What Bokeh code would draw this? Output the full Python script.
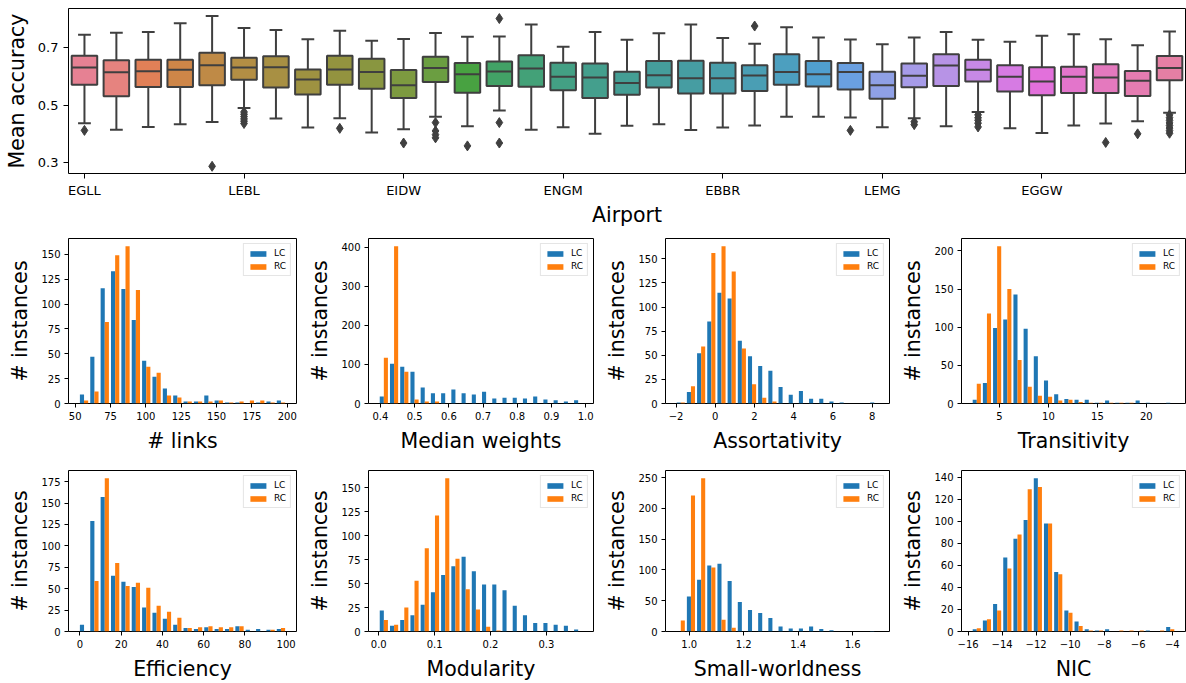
import math
import colorsys
import numpy as np
from bokeh.plotting import figure
from bokeh.layouts import column, row
from bokeh.models import Range1d, FixedTicker
from bokeh.embed import file_html
from bokeh.resources import INLINE

# ------------------------------------------------------------------ data
# Box plot: mean accuracy per airport (35 airports, every 5th labelled)
tick_pos = [0, 5, 10, 15, 20, 25, 30]
tick_names = ["EGLL", "LEBL", "EIDW", "ENGM", "EBBR", "LEMG", "EGGW"]
whisk_hi = [0.745, 0.752, 0.754, 0.785, 0.810, 0.768, 0.761, 0.729, 0.759, 0.724,
            0.730, 0.751, 0.738, 0.739, 0.780, 0.703, 0.754, 0.727, 0.750, 0.780,
            0.733, 0.713, 0.771, 0.735, 0.728, 0.712, 0.735, 0.754, 0.727, 0.720,
            0.741, 0.746, 0.729, 0.708, 0.756]
q3 = [0.672, 0.656, 0.658, 0.658, 0.682, 0.665, 0.670, 0.624, 0.672, 0.661,
      0.622, 0.668, 0.646, 0.652, 0.673, 0.647, 0.645, 0.616, 0.653, 0.654,
      0.647, 0.639, 0.677, 0.653, 0.646, 0.616, 0.645, 0.677, 0.658, 0.639,
      0.632, 0.633, 0.642, 0.619, 0.671]
med = [0.631, 0.614, 0.618, 0.623, 0.639, 0.631, 0.632, 0.589, 0.624, 0.615,
       0.569, 0.629, 0.607, 0.617, 0.627, 0.599, 0.596, 0.577, 0.604, 0.593,
       0.593, 0.603, 0.615, 0.607, 0.615, 0.569, 0.602, 0.638, 0.623, 0.599,
       0.582, 0.599, 0.596, 0.585, 0.629]
q1 = [0.571, 0.531, 0.563, 0.563, 0.569, 0.588, 0.561, 0.537, 0.571, 0.557,
      0.525, 0.580, 0.543, 0.566, 0.564, 0.552, 0.525, 0.536, 0.561, 0.540,
      0.540, 0.549, 0.571, 0.565, 0.554, 0.522, 0.562, 0.566, 0.582, 0.547,
      0.534, 0.542, 0.542, 0.532, 0.586]
whisk_lo = [0.437, 0.414, 0.424, 0.433, 0.441, 0.490, 0.453, 0.422, 0.454, 0.405,
            0.416, 0.459, 0.426, 0.481, 0.414, 0.423, 0.400, 0.428, 0.433, 0.413,
            0.422, 0.429, 0.459, 0.459, 0.457, 0.423, 0.454, 0.426, 0.476, 0.419,
            0.403, 0.429, 0.436, 0.444, 0.473]
out_box = [0, 4, 5, 5, 5, 5, 5, 5, 8, 10, 11, 11, 11, 11, 12, 13, 13, 13, 21, 24,
           26, 26, 28, 28, 28, 28, 28, 32, 33, 34, 34, 34, 34, 34, 34, 34, 34]
out_val = [0.412, 0.287, 0.476, 0.468, 0.460, 0.452, 0.444, 0.436, 0.419, 0.368,
           0.439, 0.410, 0.397, 0.386, 0.358, 0.801, 0.439, 0.368, 0.775, 0.412,
           0.442, 0.432, 0.466, 0.456, 0.447, 0.437, 0.424, 0.370, 0.400,
           0.466, 0.456, 0.447, 0.438, 0.429, 0.420, 0.411, 0.402]

# Histograms (20 bins each): bin range, LC counts, RC counts
links_range = (52.6, 199.2)
links_lc = [9, 47, 116, 133, 115, 84, 43, 27, 15, 8, 2, 2, 8, 3, 1, 1, 0, 1, 2, 3]
links_rc = [3, 12, 82, 149, 158, 114, 37, 31, 8, 6, 2, 2, 2, 3, 1, 2, 3, 3, 1, 1]

medw_range = (0.395, 0.993)
medw_lc = [18, 102, 94, 81, 41, 26, 26, 36, 26, 23, 30, 13, 15, 15, 13, 18, 10, 8, 5, 8]
medw_rc = [117, 402, 81, 10, 5, 5, 0, 0, 0, 0, 0, 0, 0, 0, 0, 0, 0, 0, 0, 0]

assort_range = (-2.02, 8.37)
assort_lc = [1, 12, 52, 85, 115, 109, 65, 49, 39, 34, 17, 9, 13, 5, 5, 2, 1, 0, 0, 1]
assort_rc = [1, 18, 59, 156, 163, 137, 57, 20, 6, 2, 0, 0, 0, 0, 0, 0, 0, 0, 0, 0]

trans_range = (2.16, 22.96)
trans_lc = [5, 27, 99, 110, 143, 98, 62, 30, 12, 6, 5, 5, 1, 4, 1, 1, 4, 1, 0, 1]
trans_rc = [26, 118, 206, 150, 57, 22, 10, 9, 4, 5, 2, 1, 1, 1, 1, 1, 0, 0, 0, 0]

eff_range = (-0.5, 100.0)
eff_lc = [8, 129, 157, 65, 58, 52, 28, 22, 15, 8, 4, 3, 5, 3, 3, 6, 2, 3, 2, 3]
eff_rc = [0, 59, 179, 80, 53, 57, 51, 30, 23, 16, 4, 5, 6, 5, 5, 6, 0, 0, 2, 4]

mod_range = (0.0, 0.366)
mod_lc = [22, 6, 12, 17, 28, 41, 59, 68, 78, 63, 49, 49, 43, 27, 17, 9, 9, 7, 6, 2]
mod_rc = [12, 7, 25, 53, 87, 121, 160, 76, 44, 23, 5, 1, 0, 0, 0, 0, 0, 0, 0, 0]

sw_range = (0.950, 1.698)
sw_lc = [0, 57, 84, 107, 110, 82, 48, 35, 30, 22, 8, 5, 5, 8, 4, 2, 0, 0, 0, 1]
sw_rc = [18, 221, 249, 104, 19, 6, 0, 0, 0, 0, 0, 0, 0, 0, 0, 0, 0, 0, 0, 0]

nic_range = (-15.79, -3.82)
nic_lc = [2, 10, 25, 67, 84, 101, 139, 98, 54, 19, 9, 2, 1, 2, 0, 0, 0, 1, 0, 4]
nic_rc = [3, 11, 19, 57, 88, 129, 131, 98, 52, 17, 5, 1, 1, 0, 1, 1, 1, 0, 1, 2]

FONT = "DejaVu Sans"
BLUE = "#1f77b4"
ORANGE = "#ff7f0e"


# ------------------------------------------------------------------ husl palette (seaborn)
_M = [[3.2406, -1.5372, -0.4986],
      [-0.9689, 1.8758, 0.0415],
      [0.0557, -0.2040, 1.0570]]
_refU, _refV = 0.19784, 0.46834


def _max_chroma(L, H):
    hrad = math.radians(H)
    sinH, cosH = math.sin(hrad), math.cos(hrad)
    sub1 = (L + 16) ** 3 / 1560896.0
    sub2 = sub1 if sub1 > 0.008856 else L / 903.3
    result = float("inf")
    for m1, m2, m3 in _M:
        top = (0.99915 * m1 + 1.05122 * m2 + 1.14460 * m3) * sub2
        rbottom = 0.86330 * m3 - 0.17266 * m2
        lbottom = 0.12949 * m3 - 0.38848 * m1
        bottom = (rbottom * sinH + lbottom * cosH) * sub2
        for t in (0.0, 1.0):
            C = L * (top - 1.05122 * t) / (bottom + 0.17266 * sinH * t)
            if 0.0 < C < result:
                result = C
    return result


def _husl_to_rgb(H, S, L):
    C = _max_chroma(L, H) / 100.0 * S
    hrad = math.radians(H)
    U, V = math.cos(hrad) * C, math.sin(hrad) * C
    varY = ((L + 16.0) / 116.0) ** 3
    if varY <= 0.008856:
        varY = L / 903.3
    varU = U / (13.0 * L) + _refU
    varV = V / (13.0 * L) + _refV
    Y = varY
    X = 0.0 - (9.0 * Y * varU) / ((varU - 4.0) * varV - varU * varV)
    Z = (9.0 * Y - 15.0 * varV * Y - varV * X) / (3.0 * varV)
    out = []
    for r in _M:
        c = r[0] * X + r[1] * Y + r[2] * Z
        c = 12.92 * c if c <= 0.0031308 else 1.055 * c ** (1 / 2.4) - 0.055
        out.append(min(max(c, 0.0), 1.0))
    return out


def husl_palette(n, h=.01, s=.9, l=.65):
    hues = (np.linspace(0, 1, n + 1)[:-1] + h) % 1 * 359
    return [_husl_to_rgb(hh, s * 99, l * 99) for hh in hues]


def to_hex(c):
    return "#%02x%02x%02x" % tuple(int(round(v * 255)) for v in c)


pal = []
for c in husl_palette(len(med)):
    hh, ll, ss = colorsys.rgb_to_hls(*c)
    pal.append(colorsys.hls_to_rgb(hh, ll, ss * 0.75))
lum = min(colorsys.rgb_to_hls(*c)[1] for c in pal) * 0.6
GRAY = to_hex((lum, lum, lum))
box_colors = [to_hex(c) for c in pal]


# ------------------------------------------------------------------ helpers
def style(p, tick_font, label_font, tick_len):
    p.xgrid.visible = False
    p.ygrid.visible = False
    p.outline_line_color = "black"
    p.outline_line_width = 1
    p.outline_line_alpha = 1
    p.background_fill_color = "white"
    p.border_fill_color = "white"
    for ax in (p.xaxis[0], p.yaxis[0]):
        ax.axis_line_color = None
        ax.major_tick_in = 0
        ax.major_tick_out = tick_len
        ax.major_tick_line_color = "black"
        ax.minor_tick_line_color = None
        ax.major_label_text_font = FONT
        ax.major_label_text_font_size = tick_font
        ax.major_label_text_color = "black"
        ax.axis_label_text_font = FONT
        ax.axis_label_text_font_size = label_font
        ax.axis_label_text_font_style = "normal"
        ax.axis_label_text_color = "black"
    p.xaxis[0].major_label_standoff = 4
    p.yaxis[0].major_label_standoff = 4


def fmt(t):
    if t < 0:
        return "\u2212" + fmt(-t)
    if isinstance(t, int):
        return str(t)
    return ("%.1f" % t)


# ------------------------------------------------------------------ box plot
top = figure(width=1186, height=230, output_backend="svg", toolbar_location=None, tools="",
             x_range=Range1d(-0.5, len(med) - 0.5), y_range=Range1d(0.262, 0.836),
             min_border_left=68, min_border_right=1, min_border_top=8, min_border_bottom=57)
style(top, "13px", "20.5px", 5)
idx = list(range(len(med)))
LW = 2
top.segment(x0=idx, x1=idx, y0=q3, y1=whisk_hi, line_color=GRAY, line_width=LW)
top.segment(x0=idx, x1=idx, y0=q1, y1=whisk_lo, line_color=GRAY, line_width=LW)
top.segment(x0=[i - 0.2 for i in idx], x1=[i + 0.2 for i in idx], y0=whisk_hi, y1=whisk_hi,
            line_color=GRAY, line_width=LW)
top.segment(x0=[i - 0.2 for i in idx], x1=[i + 0.2 for i in idx], y0=whisk_lo, y1=whisk_lo,
            line_color=GRAY, line_width=LW)
top.vbar(x=idx, width=0.8, bottom=q1, top=q3, fill_color=box_colors, line_color=GRAY,
         line_width=LW)
top.segment(x0=[i - 0.4 for i in idx], x1=[i + 0.4 for i in idx], y0=med, y1=med,
            line_color=GRAY, line_width=LW)
top.scatter(x=out_box, y=out_val, marker="diamond", size=10, fill_color=GRAY, line_color=GRAY)
top.xaxis.ticker = FixedTicker(ticks=tick_pos)
top.xaxis.major_label_overrides = {p: n for p, n in zip(tick_pos, tick_names)}
top.yaxis.ticker = FixedTicker(ticks=[0.3, 0.5, 0.7])
top.yaxis.major_label_overrides = {0.3: "0.3", 0.5: "0.5", 0.7: "0.7"}
top.xaxis.axis_label = "Airport"
top.yaxis.axis_label = "Mean accuracy"
top.xaxis.axis_label_standoff = 2
top.yaxis.axis_label_standoff = 6
top.xaxis.major_label_standoff = 4
top.yaxis.major_label_standoff = 5


# ------------------------------------------------------------------ histograms
def make_hist(xlabel, rng, lc, rc, xticks, yticks, fw, mbl, mbr, fh, mbt, mbb):
    lo, hi = rng
    n = len(lc)
    w = (hi - lo) / n
    edges = np.linspace(lo, hi, n + 1)
    centers = edges[:-1] + w / 2
    span = hi - lo
    ymax = max(max(lc), max(rc)) * 1.05
    p = figure(width=fw, height=fh, output_backend="svg", toolbar_location=None, tools="",
               x_range=Range1d(lo - 0.05 * span, hi + 0.05 * span), y_range=Range1d(0, ymax),
               min_border_left=mbl, min_border_right=mbr, min_border_top=mbt,
               min_border_bottom=mbb)
    style(p, "10px", "20.5px", 4)
    p.vbar(x=centers - 0.2 * w, width=0.4 * w, top=lc, bottom=0, fill_color=BLUE,
           line_color=None, legend_label="LC")
    p.vbar(x=centers + 0.2 * w, width=0.4 * w, top=rc, bottom=0, fill_color=ORANGE,
           line_color=None, legend_label="RC")
    p.xaxis.ticker = FixedTicker(ticks=xticks)
    p.xaxis.major_label_overrides = {t: fmt(t) for t in xticks}
    p.yaxis.ticker = FixedTicker(ticks=yticks)
    p.yaxis.major_label_overrides = {t: fmt(t) for t in yticks}
    p.xaxis.axis_label = xlabel
    p.yaxis.axis_label = "# instances"
    p.xaxis.axis_label_standoff = 6
    p.yaxis.axis_label_standoff = 6
    p.xaxis.major_label_standoff = 4
    leg = p.legend[0]
    leg.location = "top_right"
    leg.label_text_font = FONT
    leg.label_text_font_size = "9px"
    leg.label_text_color = "black"
    leg.glyph_width = 20
    leg.glyph_height = 7
    leg.label_height = 10
    leg.label_width = 10
    leg.label_standoff = 6
    leg.spacing = 3
    leg.padding = 4
    leg.margin = 5
    leg.border_line_color = "#cccccc"
    leg.border_line_width = 1
    leg.background_fill_alpha = 0.8
    return p


cols = [(305, 68, 9), (297, 61, 9), (296, 61, 9), (288, 62, 1)]
r2 = (225, 8, 50)
r3 = (228, 15, 47)

h1 = make_hist("# links", links_range, links_lc, links_rc,
               [50, 75, 100, 125, 150, 175, 200], [0, 25, 50, 75, 100, 125, 150],
               *cols[0], *r2)
h2 = make_hist("Median weights", medw_range, medw_lc, medw_rc,
               [0.4, 0.5, 0.6, 0.7, 0.8, 0.9, 1.0], [0, 100, 200, 300, 400],
               *cols[1], *r2)
h3 = make_hist("Assortativity", assort_range, assort_lc, assort_rc,
               [-2, 0, 2, 4, 6, 8], [0, 25, 50, 75, 100, 125, 150],
               *cols[2], *r2)
h4 = make_hist("Transitivity", trans_range, trans_lc, trans_rc,
               [5, 10, 15, 20], [0, 50, 100, 150, 200],
               *cols[3], *r2)
h5 = make_hist("Efficiency", eff_range, eff_lc, eff_rc,
               [0, 20, 40, 60, 80, 100], [0, 25, 50, 75, 100, 125, 150, 175],
               *cols[0], *r3)
h6 = make_hist("Modularity", mod_range, mod_lc, mod_rc,
               [0.0, 0.1, 0.2, 0.3], [0, 25, 50, 75, 100, 125, 150],
               *cols[1], *r3)
h7 = make_hist("Small-worldness", sw_range, sw_lc, sw_rc,
               [1.0, 1.2, 1.4, 1.6], [0, 50, 100, 150, 200, 250],
               *cols[2], *r3)
h8 = make_hist("NIC", nic_range, nic_lc, nic_rc,
               [-16, -14, -12, -10, -8, -6, -4], [0, 20, 40, 60, 80, 100, 120, 140],
               *cols[3], *r3)

layout = column(top, row(h1, h2, h3, h4), row(h5, h6, h7, h8))
open("out.html", "w").write(file_html(layout, INLINE))
